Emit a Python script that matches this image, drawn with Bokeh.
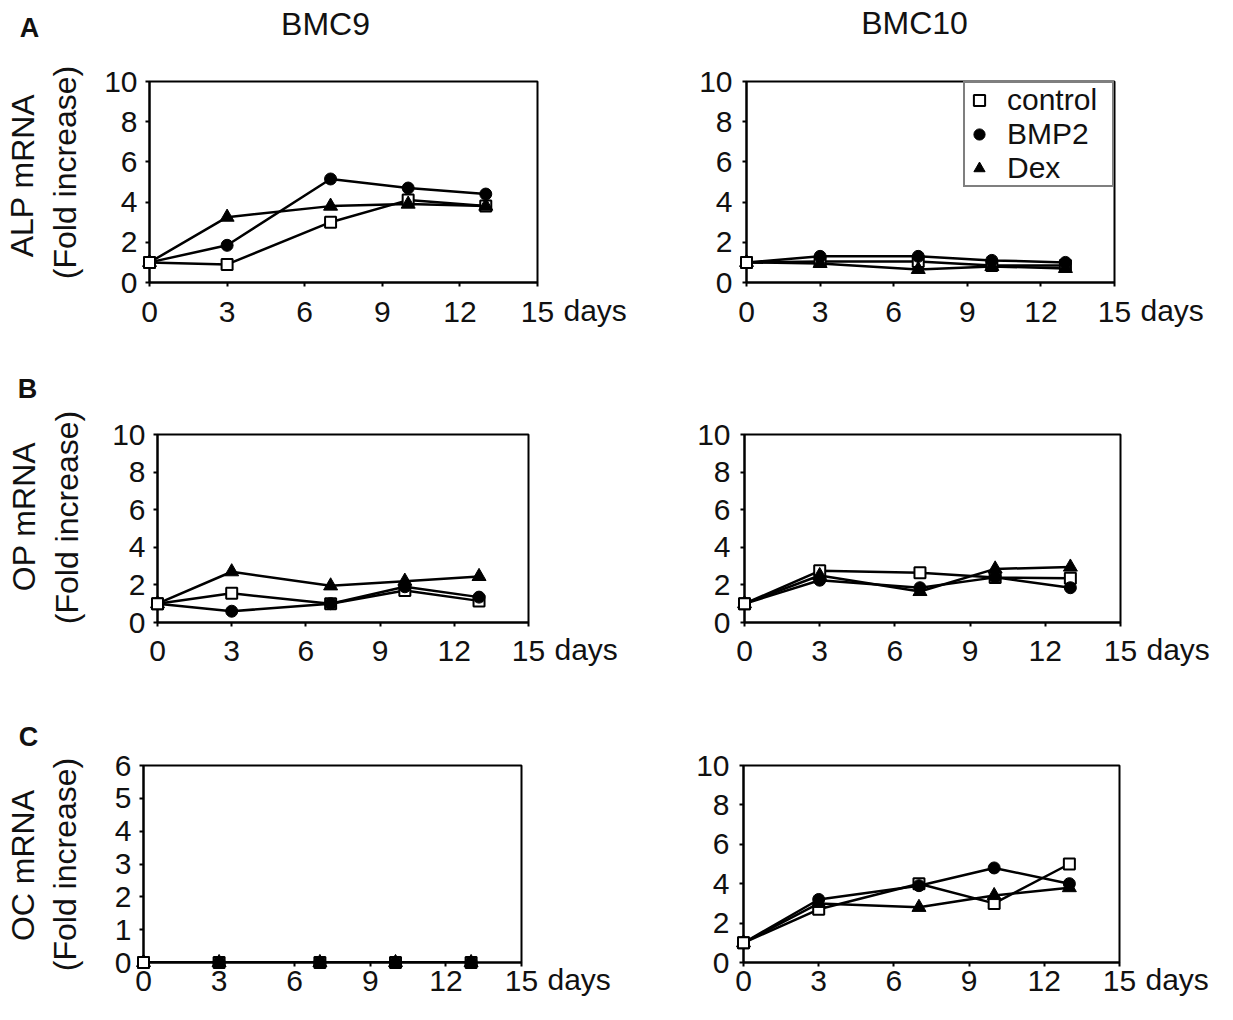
from bokeh.plotting import figure
from bokeh.layouts import column, row
from bokeh.models import Legend, LegendItem, FixedTicker, Range1d
from bokeh.core.properties import value
from bokeh.embed import file_html
from bokeh.resources import INLINE

# ---------------- data ----------------
days = [0, 3, 7, 10, 13]
x_ticks = [0, 3, 6, 9, 12, 15]
series_names = ["control", "BMP2", "Dex"]
column_titles = ["BMC9", "BMC10"]
row_letters = ["A", "B", "C"]
row_ylabels = ["ALP mRNA", "OP mRNA", "OC mRNA"]
ylabel_second = "(Fold increase)"
x_unit = "days"

alp_bmc9_control = [1.0, 0.9, 3.0, 4.1, 3.8]
alp_bmc9_bmp2 = [1.0, 1.85, 5.15, 4.7, 4.4]
alp_bmc9_dex = [1.0, 3.25, 3.8, 3.9, 3.8]

alp_bmc10_control = [1.0, 1.05, 1.05, 0.85, 0.85]
alp_bmc10_bmp2 = [1.0, 1.3, 1.3, 1.1, 1.0]
alp_bmc10_dex = [1.0, 0.95, 0.65, 0.8, 0.7]

op_bmc9_control = [1.0, 1.55, 1.0, 1.7, 1.15]
op_bmc9_bmp2 = [1.0, 0.6, 1.0, 1.9, 1.35]
op_bmc9_dex = [1.0, 2.7, 1.95, 2.2, 2.45]

op_bmc10_control = [1.0, 2.75, 2.65, 2.4, 2.35]
op_bmc10_bmp2 = [1.0, 2.25, 1.85, 2.4, 1.85]
op_bmc10_dex = [1.0, 2.5, 1.65, 2.85, 2.95]

oc_bmc9_control = [0.0, 0.0, 0.0, 0.0, 0.0]
oc_bmc9_bmp2 = [0.0, 0.0, 0.0, 0.0, 0.0]
oc_bmc9_dex = [0.0, 0.0, 0.0, 0.0, 0.0]

oc_bmc10_control = [1.0, 2.7, 4.0, 3.0, 5.0]
oc_bmc10_bmp2 = [1.0, 3.2, 3.9, 4.8, 4.0]
oc_bmc10_dex = [1.0, 3.0, 2.8, 3.4, 3.8]

yticks_10 = [0, 2, 4, 6, 8, 10]
yticks_6 = [0, 1, 2, 3, 4, 5, 6]

# ---------------- style ----------------
FONT = "Liberation Sans"
TICK_FS = "30px"
LAB_FS = "32px"
TXT = "#111111"


def add_text(p, x, y, xo, yo, text, size=LAB_FS, bold=False, angle=0.0,
             align="center", baseline="middle"):
    p.text(x=[x], y=[y], text=[text], x_offset=xo, y_offset=yo, angle=angle,
           text_font=value(FONT), text_font_size=value(size),
           text_font_style="bold" if bold else "normal",
           text_color=TXT, text_align=align, text_baseline=baseline,
           level="overlay")


def make_panel(width, height, L, T, R, B, ymax, yticks, control, bmp2, dex,
               ystandoff=8, xstandoff=15, legend=False):
    p = figure(width=width, height=height,
               x_range=Range1d(0, 15), y_range=Range1d(0, ymax),
               output_backend="svg", toolbar_location=None, title=None,
               min_border_left=L, min_border_right=R,
               min_border_top=T, min_border_bottom=B)
    p.grid.visible = False
    p.outline_line_color = "black"
    p.outline_line_width = 2
    p.background_fill_color = "white"
    p.border_fill_color = "white"

    p.xaxis.ticker = FixedTicker(ticks=x_ticks)
    p.yaxis.ticker = FixedTicker(ticks=yticks)
    for ax in (p.xaxis[0], p.yaxis[0]):
        ax.axis_line_color = "black"
        ax.axis_line_width = 2
        ax.major_tick_line_color = "black"
        ax.major_tick_line_width = 2
        ax.major_tick_in = 0
        ax.major_tick_out = 4
        ax.minor_tick_line_color = None
        ax.major_label_text_font = FONT
        ax.major_label_text_font_size = TICK_FS
        ax.major_label_text_color = TXT
    p.xaxis.major_label_standoff = xstandoff
    p.yaxis.major_label_standoff = ystandoff

    # lines
    for vals in (control, bmp2, dex):
        p.line(days, vals, line_color="black", line_width=2.5)
    # markers (overlay level so that edge markers are not cut by the frame)
    r_c = p.scatter(days, control, marker="square", size=11, fill_color="white",
                    line_color="black", line_width=2, level="overlay")
    r_b = p.scatter(days, bmp2, marker="circle", size=12, fill_color="black",
                    line_color="black", line_width=1, level="overlay")
    r_d = p.scatter(days, dex, marker="triangle", size=14, fill_color="black",
                    line_color="black", line_width=1, level="overlay")
    # day-0 control marker drawn on top
    p.scatter(days[:1], control[:1], marker="square", size=11, fill_color="white",
              line_color="black", line_width=2, level="overlay")

    # "days" after the last tick label, on the tick labels' baseline
    add_text(p, x_ticks[-1], 0, 26, xstandoff - 4, x_unit, size=TICK_FS,
             align="left", baseline="top")

    if legend:
        lg = Legend(items=[LegendItem(label=series_names[0], renderers=[r_c]),
                           LegendItem(label=series_names[1], renderers=[r_b]),
                           LegendItem(label=series_names[2], renderers=[r_d])],
                    location="top_right", margin=0, padding=0, spacing=0,
                    border_line_color="black", border_line_width=2,
                    background_fill_color="white", background_fill_alpha=1,
                    label_text_font=FONT, label_text_font_size="30px",
                    label_text_color=TXT,
                    glyph_width=28, glyph_height=28, label_standoff=14,
                    label_height=28, label_width=105)
        p.add_layout(lg)
    return p


def add_ylabels(p, first, fx, fy, sx, sy):
    add_text(p, 0, 0, fx, fy, first, angle=1.5707963)
    add_text(p, 0, 0, sx, sy, ylabel_second, angle=1.5707963)


# ---------------- row A ----------------
pA1 = make_panel(635, 340, 149, 80, 98, 54, 10, yticks_10,
                 alp_bmc9_control, alp_bmc9_bmp2, alp_bmc9_dex)
add_ylabels(pA1, row_ylabels[0], -127, -107, -85, -110)
add_text(pA1, 0, 10, -120, -54, row_letters[0], bold=True, size="27px")
add_text(pA1, 0, 10, 176, -58, column_titles[0])

pA2 = make_panel(582, 340, 111, 81, 103, 58, 10, yticks_10,
                 alp_bmc10_control, alp_bmc10_bmp2, alp_bmc10_dex,
                 ystandoff=10, legend=True)
add_text(pA2, 0, 10, 168, -59, column_titles[1])

# ---------------- row B ----------------
pB1 = make_panel(635, 345, 157, 94, 107, 58, 10, yticks_10,
                 op_bmc9_control, op_bmc9_bmp2, op_bmc9_dex, xstandoff=14)
add_ylabels(pB1, row_ylabels[1], -134, -106, -91, -105)
add_text(pB1, 0, 10, -130, -46, row_letters[1], bold=True, size="27px")

pB2 = make_panel(582, 345, 109, 92, 97, 63, 10, yticks_10,
                 op_bmc10_control, op_bmc10_bmp2, op_bmc10_dex,
                 ystandoff=10, xstandoff=14)

# ---------------- row C ----------------
pC1 = make_panel(635, 319, 143, 80, 114, 42, 6, yticks_6,
                 oc_bmc9_control, oc_bmc9_bmp2, oc_bmc9_dex, xstandoff=4)
add_ylabels(pC1, row_ylabels[2], -121, -97, -79, -98)
add_text(pC1, 0, 6, -115, -29, row_letters[2], bold=True, size="27px")

pC2 = make_panel(582, 319, 108, 78, 98, 42, 10, yticks_10,
                 oc_bmc10_control, oc_bmc10_bmp2, oc_bmc10_dex,
                 ystandoff=10, xstandoff=4)

layout = column(row(pA1, pA2), row(pB1, pB2), row(pC1, pC2))

open("out.html", "w").write(file_html(layout, INLINE))
